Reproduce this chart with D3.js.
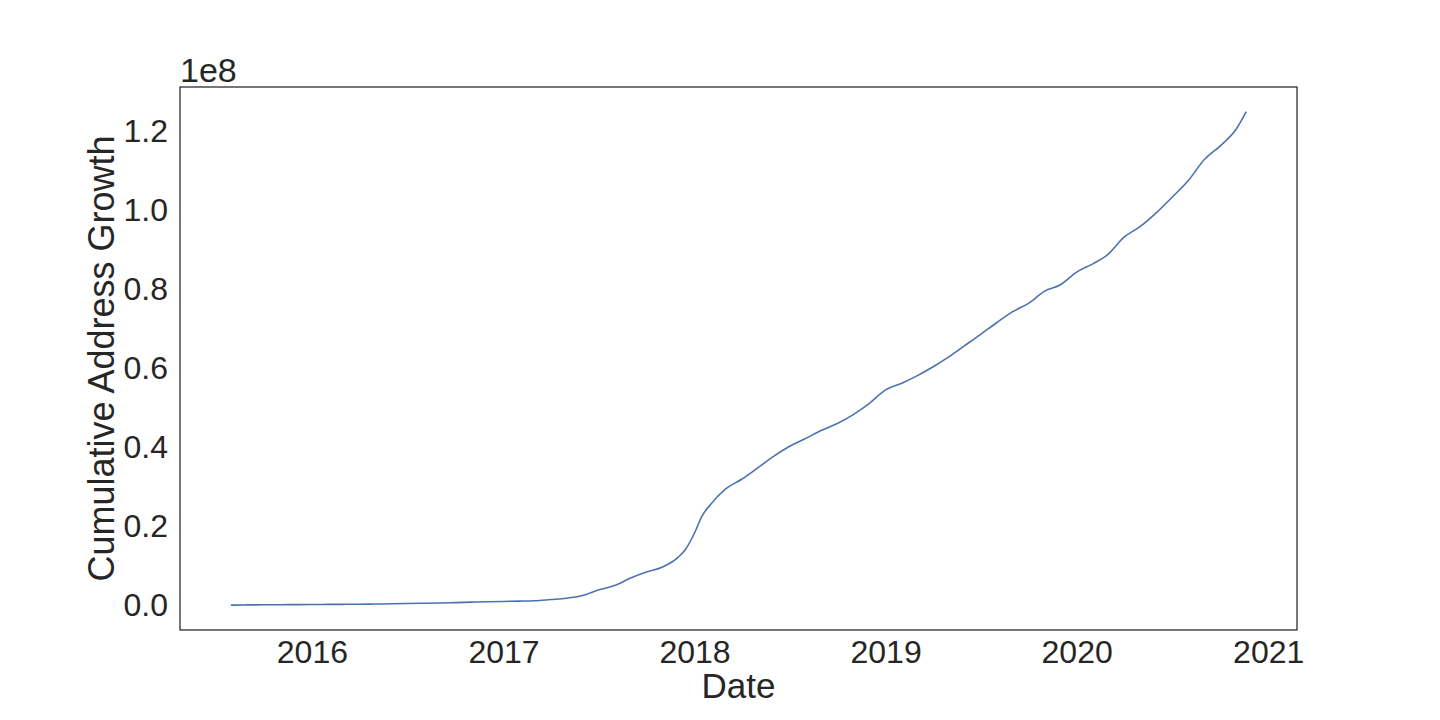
<!DOCTYPE html>
<html>
<head>
<meta charset="utf-8">
<script src="https://cdn.jsdelivr.net/npm/d3@7"></script>
<style>
  body { margin: 0; background: #fff; }
  svg text { font-family: "Liberation Sans", Arial, sans-serif; fill: #262626; }
  .frame { fill: none; stroke: #262626; stroke-width: 1.25; }
  .series { fill: none; stroke: #4c72b0; stroke-width: 1.6; }
</style>
</head>
<body>
<svg id="chart" width="1440" height="720"></svg>
<script>
/* cumulative address growth (values in units of 1e8) */

const dates = [
  "2015-07-30", "2015-08-01", "2015-09-01", "2015-10-01", "2015-11-01", "2015-12-01",
  "2016-01-01", "2016-02-01", "2016-03-01", "2016-04-01", "2016-05-01", "2016-06-01",
  "2016-07-01", "2016-08-01", "2016-09-01", "2016-10-01", "2016-11-01", "2016-12-01",
  "2017-01-01", "2017-02-01", "2017-03-01", "2017-04-01", "2017-05-01", "2017-06-01",
  "2017-07-01", "2017-08-01", "2017-09-01", "2017-10-01", "2017-11-01", "2017-12-01",
  "2017-12-15", "2018-01-01", "2018-01-15", "2018-02-01", "2018-03-01", "2018-04-01",
  "2018-05-01", "2018-06-01", "2018-07-01", "2018-08-01", "2018-09-01", "2018-10-01",
  "2018-11-01", "2018-12-01", "2019-01-01", "2019-02-01", "2019-03-01", "2019-04-01",
  "2019-05-01", "2019-06-01", "2019-07-01", "2019-08-01", "2019-09-01", "2019-10-01",
  "2019-11-01", "2019-12-01", "2020-01-01", "2020-02-01", "2020-03-01", "2020-04-01",
  "2020-05-01", "2020-06-01", "2020-07-01", "2020-08-01", "2020-09-01", "2020-10-01",
  "2020-11-01", "2020-11-20"
];

const addresses = [
  0.0000, 0.0005, 0.0010, 0.0013, 0.0015, 0.0018,
  0.0020, 0.0023, 0.0025, 0.0028, 0.0033, 0.0038,
  0.0045, 0.0053, 0.0060, 0.0068, 0.0080, 0.0090,
  0.0098, 0.0106, 0.0116, 0.0146, 0.0177, 0.0247,
  0.0386, 0.0500, 0.0690, 0.0840, 0.0970, 0.1220,
  0.1420, 0.1830, 0.2250, 0.2560, 0.2940, 0.3190,
  0.3470, 0.3770, 0.4020, 0.4220, 0.4430, 0.4600,
  0.4830, 0.5110, 0.5450, 0.5620, 0.5800, 0.6030,
  0.6280, 0.6570, 0.6850, 0.7150, 0.7430, 0.7640,
  0.7950, 0.8110, 0.8430, 0.8640, 0.8880, 0.9320,
  0.9580, 0.9930, 1.0320, 1.0740, 1.1280, 1.1620,
  1.2050, 1.2490
];

const yTicks = [0, 0.2, 0.4, 0.6, 0.8, 1.0, 1.2];
const xTicks = ["2016-01-01", "2017-01-01", "2018-01-01", "2019-01-01", "2020-01-01", "2021-01-01"];

const parse = d3.timeParse("%Y-%m-%d");
const data = dates.map((d, i) => ({date: parse(d), value: addresses[i]}));

const box = {left: 180, top: 87, right: 1297, bottom: 630};
const svg = d3.select("#chart");

// matplotlib-like 5% margins
const xExt = d3.extent(data, d => d.date);
const xPad = (xExt[1] - xExt[0]) * 0.05;
const x = d3.scaleTime()
    .domain([new Date(+xExt[0] - xPad), new Date(+xExt[1] + xPad)])
    .range([box.left, box.right]);

const yExt = d3.extent(data, d => d.value);
const yPad = (yExt[1] - yExt[0]) * 0.05;
const y = d3.scaleLinear()
    .domain([yExt[0] - yPad, yExt[1] + yPad])
    .range([box.bottom, box.top]);

svg.append("g")
    .attr("transform", `translate(0,${box.bottom})`)
    .call(d3.axisBottom(x).tickValues(xTicks.map(parse)).tickSize(0).tickPadding(10)
        .tickFormat(d3.timeFormat("%Y")))
    .call(g => g.select(".domain").remove())
    .selectAll("text").attr("dy", "0.71em").style("font-size", "32px");

svg.append("g")
    .attr("transform", `translate(${box.left},0)`)
    .call(d3.axisLeft(y).tickValues(yTicks).tickSize(0).tickPadding(12)
        .tickFormat(d3.format(".1f")))
    .call(g => g.select(".domain").remove())
    .selectAll("text").style("font-size", "32px");

svg.selectAll(".tick text").attr("fill", "#262626");

svg.append("path").attr("class", "series")
    .datum(data)
    .attr("d", d3.line().curve(d3.curveMonotoneX).x(d => x(d.date)).y(d => y(d.value)));

svg.append("rect").attr("class", "frame")
    .attr("x", box.left).attr("y", box.top)
    .attr("width", box.right - box.left).attr("height", box.bottom - box.top);

svg.append("text")
    .attr("x", box.left).attr("y", 82)
    .style("font-size", "34px")
    .text("1e8");

svg.append("text")
    .attr("x", (box.left + box.right) / 2).attr("y", 698)
    .attr("text-anchor", "middle")
    .style("font-size", "35px")
    .text("Date");

svg.append("text")
    .attr("transform", `translate(114,${(box.top + box.bottom) / 2}) rotate(-90)`)
    .attr("text-anchor", "middle")
    .style("font-size", "36px")
    .text("Cumulative Address Growth");
</script>
</body>
</html>
